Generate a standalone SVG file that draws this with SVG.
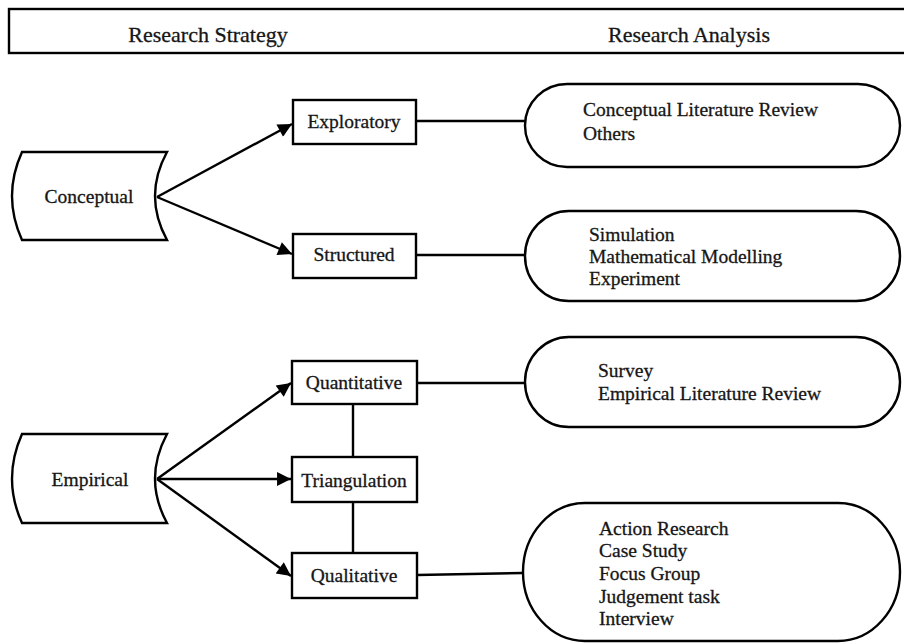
<svg xmlns="http://www.w3.org/2000/svg" width="904" height="643" viewBox="0 0 904 643">
<style>
.s{fill:#fff;stroke:#000;stroke-width:2.4}
.t{font-family:"Liberation Serif","Times New Roman",serif;font-size:19.5px;fill:#161616;stroke:#161616;stroke-width:0.3}
.h{font-family:"Liberation Serif","Times New Roman",serif;font-size:22px;fill:#161616;stroke:#161616;stroke-width:0.3}
.c{text-anchor:middle}
.l{fill:none;stroke:#000;stroke-width:2.4}
</style>
<defs>
<marker id="ah" viewBox="0 0 10 10" refX="10" refY="5" markerWidth="7" markerHeight="5.8" markerUnits="strokeWidth" orient="auto">
<path d="M0,0 L10,5 L0,10 z" fill="#000"/>
</marker>
</defs>
<g id="header">
<rect class="s" x="9" y="9" width="905" height="44" stroke-width="2.6"/>
<text class="h c" x="208" y="42">Research Strategy</text>
<text class="h c" x="689" y="42">Research Analysis</text>
</g>
<g id="conceptual">
<path class="s" d="M22,152 L167,152 Q143,196 167,240 L22,240 Q2,196 22,152 Z"/>
<text class="t c" x="89" y="203">Conceptual</text>
</g>
<g id="empirical">
<path class="s" d="M22,434 L167,434 Q143,479 167,523 L22,523 Q2,479 22,434 Z"/>
<text class="t c" x="90" y="486">Empirical</text>
</g>
<g id="exploratory">
<rect class="s" x="293" y="100" width="123" height="44"/>
<text class="t c" x="354" y="128">Exploratory</text>
</g>
<g id="structured">
<rect class="s" x="293" y="234" width="123" height="44"/>
<text class="t c" x="354" y="261">Structured</text>
</g>
<g id="quantitative">
<rect class="s" x="292" y="361" width="125" height="43"/>
<text class="t c" x="354" y="389">Quantitative</text>
</g>
<g id="triangulation">
<rect class="s" x="292" y="457" width="125" height="45"/>
<text class="t c" x="354" y="487">Triangulation</text>
</g>
<g id="qualitative">
<rect class="s" x="292" y="553" width="125" height="45"/>
<text class="t c" x="354" y="582">Qualitative</text>
</g>
<g id="analysis-conceptual">
<rect class="s" x="525" y="84" width="375" height="83" rx="42" ry="41.5"/>
<text class="t" x="583" y="116">Conceptual Literature Review</text>
<text class="t" x="583" y="140">Others</text>
</g>
<g id="analysis-structured">
<rect class="s" x="525" y="211" width="375" height="90" rx="44" ry="45"/>
<text class="t" x="589" y="241">Simulation</text>
<text class="t" x="589" y="263">Mathematical Modelling</text>
<text class="t" x="589" y="285">Experiment</text>
</g>
<g id="analysis-quantitative">
<rect class="s" x="525" y="337" width="375" height="90" rx="44" ry="45"/>
<text class="t" x="598" y="377">Survey</text>
<text class="t" x="598" y="400">Empirical Literature Review</text>
</g>
<g id="analysis-qualitative">
<rect class="s" x="523" y="503" width="377" height="138" rx="62" ry="69"/>
<text class="t" x="599" y="535">Action Research</text>
<text class="t" x="599" y="557">Case Study</text>
<text class="t" x="599" y="580">Focus Group</text>
<text class="t" x="599" y="603">Judgement task</text>
<text class="t" x="599" y="625">Interview</text>
</g>
<g id="connectors">
<line class="l" x1="157" y1="197" x2="292" y2="124" marker-end="url(#ah)"/>
<line class="l" x1="157" y1="197" x2="292" y2="254" marker-end="url(#ah)"/>
<line class="l" x1="157" y1="479" x2="291" y2="383" marker-end="url(#ah)"/>
<line class="l" x1="157" y1="479" x2="291" y2="479" marker-end="url(#ah)"/>
<line class="l" x1="157" y1="479" x2="291" y2="576" marker-end="url(#ah)"/>
<line class="l" x1="416" y1="121" x2="525" y2="121"/>
<line class="l" x1="416" y1="255" x2="525" y2="255"/>
<line class="l" x1="417" y1="383" x2="525" y2="383"/>
<line class="l" x1="417" y1="575" x2="523" y2="573"/>
<line class="l" x1="353" y1="404" x2="353" y2="457"/>
<line class="l" x1="353" y1="502" x2="353" y2="553"/>
</g>
</svg>
